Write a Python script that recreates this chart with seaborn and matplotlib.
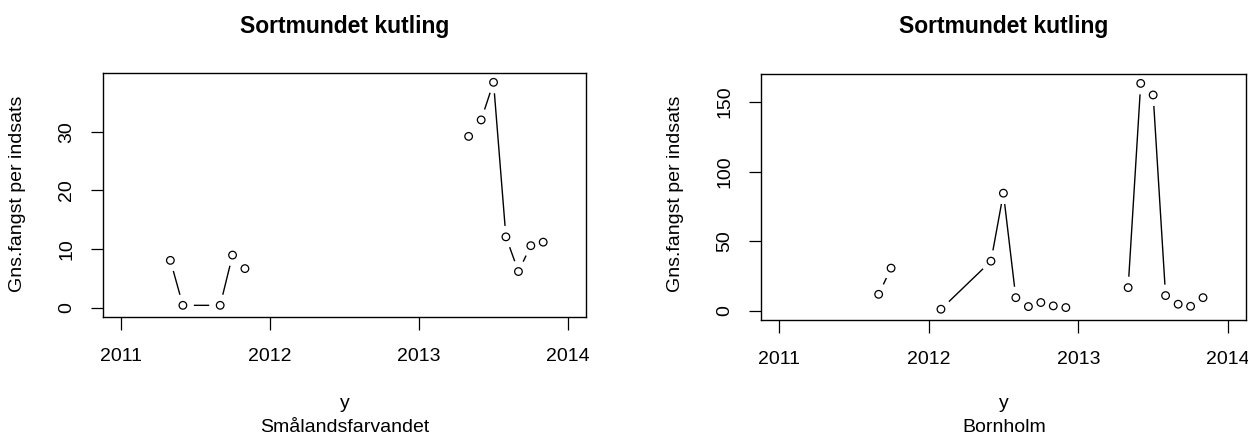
import numpy as np
import pandas as pd
import seaborn as sns
import matplotlib
matplotlib.use('Agg')
import matplotlib.pyplot as plt

# Data (decimal year, mean catch per haul); NaN = break in the line
small_year = [2011.333, 2011.417, 2011.667, 2011.75, 2011.833, np.nan,
              2013.333, 2013.417, 2013.5, 2013.583, 2013.667, 2013.75, 2013.833]
small_catch = [8.1, 0.45, 0.45, 9.0, 6.7, np.nan,
               29.2, 32.0, 38.4, 12.1, 6.2, 10.6, 11.2]

born_year = [2011.667, 2011.75, np.nan,
             2012.083, 2012.417, 2012.5, 2012.583, 2012.667, 2012.75, 2012.833, 2012.917, np.nan,
             2013.333, 2013.417, 2013.5, 2013.583, 2013.667, 2013.75, 2013.833]
born_catch = [11.9, 30.7, np.nan,
              1.2, 35.7, 84.5, 9.5, 3.1, 6.0, 3.6, 2.4, np.nan,
              16.7, 163.3, 155.0, 11.0, 4.8, 3.3, 9.5]

year_ticks = [2011, 2012, 2013, 2014]
small_yticks = [0, 10, 20, 30]
born_yticks = [0, 50, 100, 150]

title = 'Sortmundet kutling'
ylab = 'Gns.fangst per indsats'
xlab = 'y'
areas = ['Smålandsfarvandet', 'Bornholm']

sns.set_style('ticks')
plt.rcParams['font.family'] = ['Liberation Sans', 'DejaVu Sans']
plt.rcParams['text.color'] = 'black'
plt.rcParams['axes.labelcolor'] = 'black'

W, H = 1248, 437
fig = plt.figure(figsize=(W / 100, H / 100), dpi=100)


def px_box(left, right, top, bottom):
    return [left / W, 1 - bottom / H, (right - left) / W, (bottom - top) / H]


def panel(ax, years, catch, yticks):
    df = pd.DataFrame({'year': years, 'catch': catch})
    df['seg'] = df['catch'].isna().cumsum()
    df = df.dropna()
    # type="b" look: line, white gap around points, open circles
    sns.lineplot(data=df, x='year', y='catch', units='seg', estimator=None,
                 color='black', lw=1.0, ax=ax, zorder=1)
    sns.scatterplot(data=df, x='year', y='catch', s=250, facecolors='white',
                    edgecolor='none', ax=ax, zorder=2)
    sns.scatterplot(data=df, x='year', y='catch', s=30, facecolors='none',
                    edgecolor='black', linewidth=0.9, ax=ax, zorder=3)
    ymax = np.nanmax(catch)
    ax.set_xlim(2011 - 0.12, 2014 + 0.12)
    ax.set_ylim(-0.04 * ymax, 1.04 * ymax)
    ax.set_xticks(year_ticks)
    ax.set_xticklabels([str(t) for t in year_ticks])
    ax.set_yticks(yticks)
    ax.set_yticklabels([str(t) for t in yticks], rotation=90, va='center')
    ax.set_xlabel('')
    ax.set_ylabel('')
    ax.tick_params(axis='both', direction='out', length=9, width=0.9,
                   labelsize=14, colors='black', bottom=True, left=True)
    ax.tick_params(axis='x', pad=13)
    ax.tick_params(axis='y', pad=11)
    for s in ax.spines.values():
        s.set_visible(True)
        s.set_color('black')
        s.set_linewidth(1.0)
        s.set_zorder(4)


ax1 = fig.add_axes(px_box(102.8, 586, 73.3, 317))
panel(ax1, small_year, small_catch, small_yticks)
ax2 = fig.add_axes(px_box(760.8, 1246, 74.3, 320))
panel(ax2, born_year, born_catch, born_yticks)

for cx, ylx, area in [(344.4, 17.5, areas[0]), (1003.8, 676, areas[1])]:
    fig.text(cx / W, 1 - 33.3 / H, title, ha='center', va='baseline',
             fontsize=16.5, fontweight='bold')
    fig.text(cx / W, 1 - 408 / H, xlab, ha='center', va='baseline', fontsize=14)
    fig.text(cx / W, 1 - 431.7 / H, area, ha='center', va='baseline', fontsize=14)
    fig.text(ylx / W, 1 - 194 / H, ylab, ha='center', va='center',
             rotation=90, fontsize=14)

fig.savefig('out.png', dpi=100)
